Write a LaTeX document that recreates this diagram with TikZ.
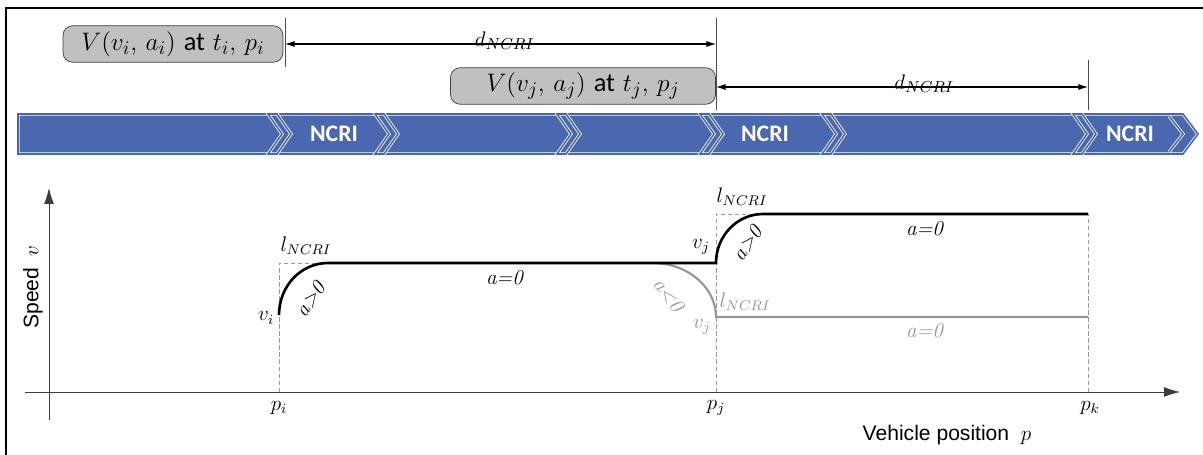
\documentclass[tikz,border=0pt]{standalone}
\usepackage{fontspec}
\setsansfont{Liberation Sans}
\newfontfamily\calibri{Carlito}
\usetikzlibrary{arrows.meta, positioning}
\definecolor{bandblue}{RGB}{74, 104, 176}
\definecolor{boxgray}{RGB}{192, 192, 192}
\definecolor{curvegray}{RGB}{150, 150, 150}
\definecolor{axisgray}{RGB}{60, 60, 60}

\begin{document}
\begin{tikzpicture}[
    x=0.02cm, y=-0.02cm,
    msg/.style={draw=black!75, fill=boxgray, rounded corners=5.5pt, minimum height=0.73cm, inner sep=0pt, font=\fontsize{15}{17}\selectfont},
    band/.style={fill=bandblue, draw=white, double=bandblue, double distance=0.9pt, line width=0.45pt},
    ncri/.style={font=\calibri\bfseries\fontsize{13.5}{15}\selectfont, text=white},
    dim/.style={{Latex[length=5.5pt,width=3.5pt]}-{Latex[length=5.5pt,width=3.5pt]}, semithick},
    axis/.style={-{Latex[length=9pt,width=5.5pt]}, axisgray, thin},
    guide/.style={dashed, gray!80, thin, dash pattern=on 2.5pt off 1.5pt},
    fast/.style={line width=1.5pt, black},
    slow/.style={line width=1.2pt, curvegray},
    lbl/.style={font=\fontsize{12}{13}\selectfont, inner sep=0.5pt},
    glbl/.style={lbl, text=curvegray}
  ]
  \useasboundingbox (0,0) rectangle (1203,455);
  % frame
  \draw[line width=1.6pt] (6,455) -- (6,8) -- (1203,8);

  % messages and their distance
  \node[msg, minimum width=4.4cm] (vi) at (173,44) {$V(v_i,\,a_i)$ {\calibri at} $t_i,\,p_i$};
  \node[msg, minimum width=5.3cm] (vj) at (583,86) {$V(v_j,\,a_j)$ {\calibri at} $t_j,\,p_j$};
  \draw[black!70] (285,18) -- (285,67);
  \draw[black!70] (716,18) -- (716,110);
  \draw[black!70] (1088,60) -- (1088,110);
  \coordinate (si) at (285,44);
  \coordinate (sj) at (716,44);
  \coordinate (rj) at (716,87);
  \coordinate (rk) at (1088,87);
  \draw[dim] (si) -- node[font=\fontsize{13}{14}\selectfont, pos=0.51, yshift=2pt] {$d_{NCRI}$} (sj);
  \draw[dim] (rj) -- node[font=\fontsize{13}{14}\selectfont, pos=0.56, yshift=2pt] {$d_{NCRI}$} (rk);

  % chevron band
  \draw[band] (18,114) -- (1183,114) -- (1198,134) -- (1183,154) -- (18,154) -- cycle;
  \foreach \sx in {268, 375, 557, 700, 822, 1073}
    \draw[band] (\sx,114) -- (\sx+9,114) -- (\sx+23,134) -- (\sx+9,154) -- (\sx,154) -- (\sx+14,134) -- cycle;
  \draw[band, fill=none] (1169,116) -- (1183,134) -- (1169,152);
  \node[ncri] (ncri1) at (334,134) {NCRI};
  \node[ncri] (ncri2) at (765,134) {NCRI};
  \node[ncri] (ncri3) at (1130,134) {NCRI};

  % speed profile
  \draw[axis] (49,420) -- (49,188);
  \draw[axis] (25,392) -- (1180,392);
  \node[rotate=90, font=\sffamily\fontsize{12}{14}\selectfont] (speed) at (33,287) {Speed \ $v$};
  \node[font=\sffamily\fontsize{12}{14}\selectfont] (pos) at (947,435) {Vehicle position \ $p$};

  \draw[guide] (279,392) -- (279,263) -- (328,263);
  \draw[guide] (716,392) -- (716,214) -- (763,214);
  \draw[guide] (1088,392) -- (1088,214);

  \draw[slow] (653,263) .. controls (687,263) and (716,287) .. (716,317) -- (1088,317);
  \draw[fast] (279,315) .. controls (279,286) and (301,263) .. (328,263) -- (716,263)
    .. controls (716,236) and (737,214) .. (763,214) -- (1088,214);

  \node[lbl] (li) at (306,246) {$l_{NCRI}$};
  \node[lbl] (vli) at (266,318) {$v_i$};
  \node[lbl, rotate=55] (ai) at (311,299) {\textit{a>0}};
  \node[lbl] (a0i) at (505,278) {\textit{a=0}};
  \node[lbl] (lj) at (742,197) {$l_{NCRI}$};
  \node[lbl] (vlj) at (701,247) {$v_j$};
  \node[lbl, rotate=55] (aj) at (748,243) {\textit{a>0}};
  \node[lbl] (a0j) at (925,229) {\textit{a=0}};
  \node[glbl, rotate=-52] (dj) at (669,295) {\textit{a<0}};
  \node[glbl] (glj) at (745,302) {$l_{NCRI}$};
  \node[glbl] (gvj) at (702,327) {$v_j$};
  \node[glbl] (ga0j) at (925,331) {\textit{a=0}};

  \node[lbl] (pi) at (279,408) {$p_i$};
  \node[lbl] (pj) at (716,408) {$p_j$};
  \node[lbl] (pk) at (1090,408) {$p_k$};
\end{tikzpicture}
\end{document}
